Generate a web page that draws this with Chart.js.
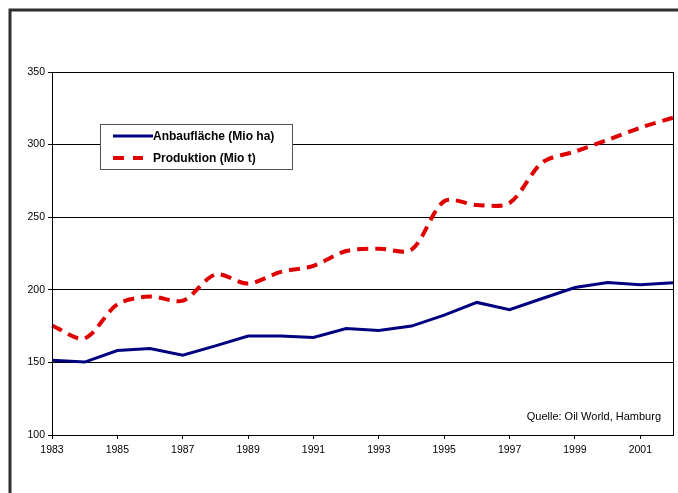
<!DOCTYPE html>
<html>
<head>
<meta charset="utf-8">
<script src="https://cdn.jsdelivr.net/npm/chart.js@4"></script>
<style>
html,body{margin:0;padding:0;background:#fff;}
#wrap{position:relative;width:678px;height:493px;}
</style>
</head>
<body>
<div id="wrap"><canvas id="c" width="678" height="493"></canvas></div>
<script>
const years = ['1983','1984','1985','1986','1987','1988','1989','1990','1991','1992','1993','1994','1995','1996','1997','1998','1999','2000','2001','2002'];
const anbauflaeche = [151.5,150.2,158.2,159.6,155.0,161.4,168.2,168.2,167.1,173.3,171.9,175.0,182.6,191.3,186.3,194.0,201.6,205.0,203.4,204.8];
const produktion = [175.3,166.6,190.0,195.4,192.5,210.5,204.3,212.3,216.5,226.7,228.3,227.6,261.0,258.4,259.8,287.7,295.2,303.2,311.6,318.5];
const yTicks = [100,150,200,250,300,350];
const seriesLabels = ['Anbaufläche (Mio ha)','Produktion (Mio t)'];
const sourceNote = 'Quelle: Oil World, Hamburg';

const FONT = '"Liberation Sans", Arial, sans-serif';

const framePlugin = {
  id: 'frame',
  beforeDraw(chart) {
    const ctx = chart.ctx;
    ctx.save();
    ctx.fillStyle = '#fff';
    ctx.fillRect(0, 0, chart.width, chart.height);
    ctx.strokeStyle = '#2e2e2e';
    ctx.lineWidth = 3;
    ctx.beginPath();
    ctx.moveTo(10, chart.height);
    ctx.lineTo(10, 10);
    ctx.lineTo(chart.width, 10);
    ctx.stroke();
    ctx.restore();
  },
  afterDraw(chart) {
    const ctx = chart.ctx;
    const a = chart.chartArea;
    ctx.save();
    ctx.strokeStyle = '#000';
    ctx.lineWidth = 1;
    ctx.strokeRect(Math.round(a.left) + 0.5, Math.round(a.top) + 0.5, Math.round(a.right - a.left), Math.round(a.bottom - a.top));
    // legend
    const lx = 100, ly = 124, lw = 192, lh = 45;
    ctx.fillStyle = '#fff';
    ctx.fillRect(lx, ly, lw, lh);
    ctx.strokeStyle = '#555';
    ctx.lineWidth = 1;
    ctx.strokeRect(lx + 0.5, ly + 0.5, lw, lh);
    const rows = [ly + 12, ly + 34];
    const sampleEnd = [153, 143];
    chart.data.datasets.forEach((ds, i) => {
      ctx.strokeStyle = ds.borderColor;
      ctx.lineWidth = i === 0 ? 3 : 4;
      ctx.setLineDash(i === 0 ? [] : [11, 9]);
      ctx.beginPath();
      ctx.moveTo(113, rows[i]);
      ctx.lineTo(sampleEnd[i], rows[i]);
      ctx.stroke();
      ctx.setLineDash([]);
      ctx.fillStyle = '#000';
      ctx.font = 'bold 12px ' + FONT;
      ctx.textBaseline = 'middle';
      ctx.textAlign = 'left';
      ctx.fillText(ds.label, 153, rows[i] + 0.5);
    });
    // source note
    ctx.font = '11px ' + FONT;
    ctx.fillStyle = '#000';
    ctx.textAlign = 'right';
    ctx.textBaseline = 'middle';
    ctx.fillText(sourceNote, 661, 417);
    ctx.restore();
  }
};

new Chart(document.getElementById('c'), {
  type: 'line',
  data: {
    labels: years,
    datasets: [
      {
        label: seriesLabels[0],
        data: anbauflaeche,
        borderColor: '#000080',
        borderWidth: 3,
        pointRadius: 0,
        tension: 0,
        fill: false
      },
      {
        label: seriesLabels[1],
        data: produktion,
        borderColor: '#e00000',
        borderWidth: 4,
        borderDash: [11, 7],
        pointRadius: 0,
        tension: 0.3,
        fill: false
      }
    ]
  },
  options: {
    responsive: false,
    animation: false,
    devicePixelRatio: 1,
    layout: { padding: { left: 0, top: 72, right: 4, bottom: 0 } },
    plugins: { legend: { display: false }, tooltip: { enabled: false } },
    scales: {
      x: {
        type: 'category',
        offset: false,
        border: { display: true, color: '#000', width: 1 },
        grid: {
          drawOnChartArea: false,
          drawTicks: true,
          tickLength: 4,
          color: (c) => (c.index % 2 === 0 ? '#000' : 'rgba(0,0,0,0)')
        },
        ticks: {
          autoSkip: false,
          maxRotation: 0,
          padding: 5,
          color: '#000',
          font: { family: FONT, size: 10.5 },
          callback: function(v, i) { return i % 2 === 0 ? this.getLabelForValue(v) : ''; }
        },
        afterFit: (s) => { s.height = 58; }
      },
      y: {
        min: 100,
        max: 350,
        border: { display: true, color: '#000', width: 1 },
        grid: { color: '#000', lineWidth: 1, tickLength: 4 },
        afterBuildTicks: (s) => { s.ticks = yTicks.map(v => ({ value: v })); },
        ticks: {
          padding: 3,
          color: '#000',
          font: { family: FONT, size: 10.5 }
        },
        afterFit: (s) => { s.width = 52; }
      }
    }
  },
  plugins: [framePlugin]
});
</script>
</body>
</html>
